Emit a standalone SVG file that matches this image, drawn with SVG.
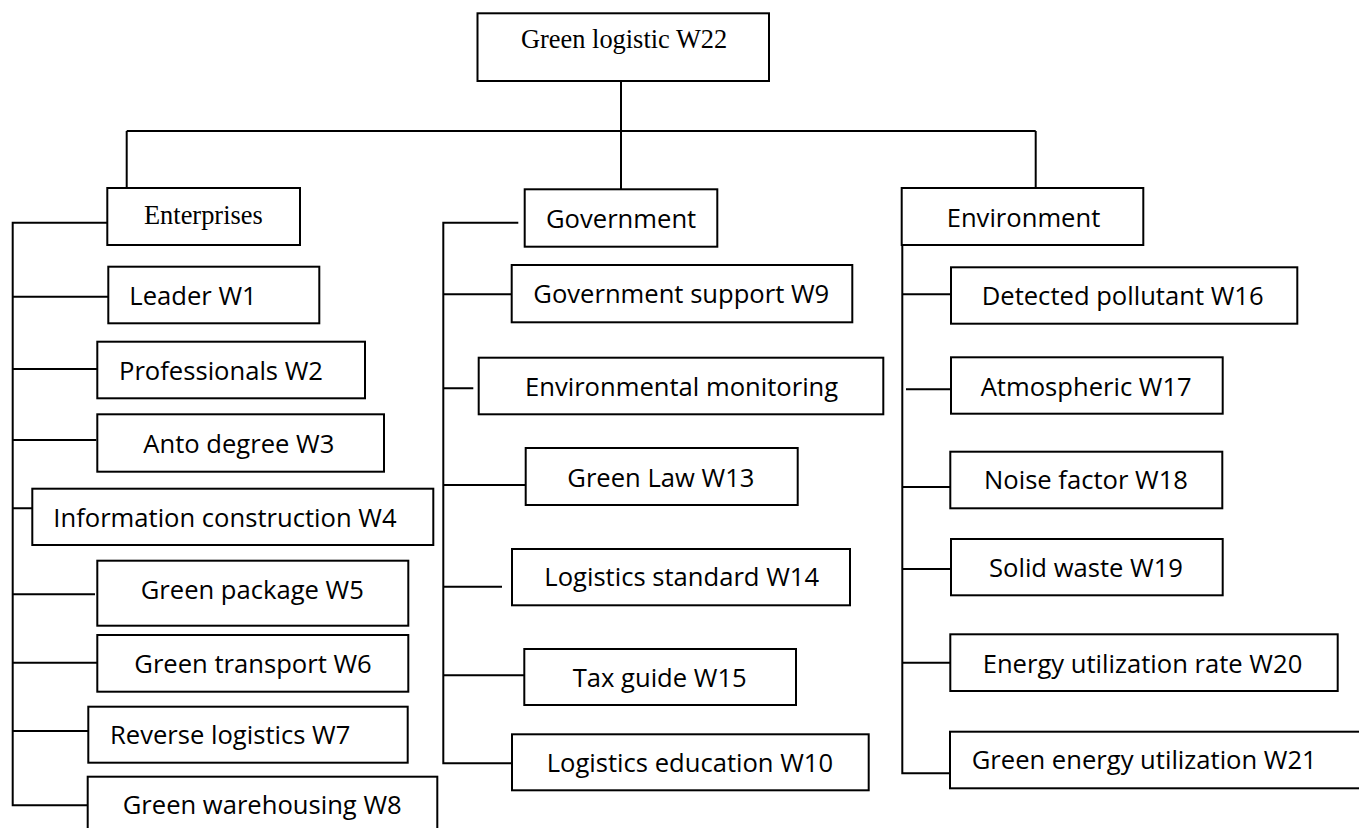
<svg xmlns="http://www.w3.org/2000/svg" width="1359" height="828" viewBox="0 0 1359 828">
<style>
.box{fill:#fff;stroke:#000;stroke-width:2}
.cn{fill:none;stroke:#000;stroke-width:2}
.t{font-family:"Open Sans","Liberation Sans",sans-serif;font-size:25.6px;fill:#000}
.ts{font-family:"Liberation Serif","Times New Roman",serif;font-size:26.4px;fill:#000}
</style>
<rect width="1359" height="828" fill="#fff"/>
<g id="connectors">
<path class="cn" d="M621 81V189"/>
<path class="cn" d="M126.7 131H1035.7"/>
<path class="cn" d="M126.7 131V188"/>
<path class="cn" d="M1035.7 131V188"/>
<path class="cn" d="M107.3 222.7H12.7V805.3H87.7"/>
<path class="cn" d="M12.7 296.7H108.3M12.7 369H97.3M12.7 440H96.3M12.7 508.3H32.3M12.7 594.3H95M12.7 662.7H97M12.7 731H91.5"/>
<path class="cn" d="M518.3 222.7H443.3V763.3H512"/>
<path class="cn" d="M443.3 294.3H511.7M443.3 388.3H473.3M443.3 485H525.7M443.3 586.7H502M443.3 675.3H524.3"/>
<path class="cn" d="M902.3 245V773.3H950"/>
<path class="cn" d="M902.3 294.3H951M906 389.3H951M902.3 487H950M902.3 569H951M902.3 662.7H950"/>
</g>
<g id="root">
<rect class="box" x="477.5" y="13.3" width="291.5" height="67.7"/>
<text class="ts" x="521" y="48.3">Green logistic W22</text>
</g>
<g id="enterprises">
<rect class="box" x="107.3" y="188" width="192.7" height="57"/>
<text class="ts" x="144" y="224.3">Enterprises</text>
</g>
<g id="government">
<rect class="box" x="524.7" y="189.3" width="192.6" height="57.4"/>
<text class="t" x="546" y="228.3">Government</text>
</g>
<g id="environment">
<rect class="box" x="901.7" y="188" width="241.6" height="57"/>
<text class="t" x="946.7" y="226.7">Environment</text>
</g>
<g id="w1">
<rect class="box" x="108.3" y="266.7" width="211" height="56.6"/>
<text class="t" x="129.3" y="305">Leader W1</text>
</g>
<g id="w2">
<rect class="box" x="97.3" y="341.7" width="267.7" height="56.6"/>
<text class="t" x="119" y="380">Professionals W2</text>
</g>
<g id="w3">
<rect class="box" x="97.3" y="414.3" width="286.7" height="57.4"/>
<text class="t" x="143.3" y="452.7">Anto degree W3</text>
</g>
<g id="w4">
<rect class="box" x="32.3" y="488.7" width="401" height="56.3"/>
<text class="t" x="53.3" y="527.3">Information construction W4</text>
</g>
<g id="w5">
<rect class="box" x="97.3" y="560.7" width="311" height="65"/>
<text class="t" x="140.7" y="599.3">Green package W5</text>
</g>
<g id="w6">
<rect class="box" x="97.3" y="635" width="311" height="56.7"/>
<text class="t" x="134.3" y="673.3">Green transport W6</text>
</g>
<g id="w7">
<rect class="box" x="88.3" y="706.7" width="319.4" height="56"/>
<text class="t" x="110" y="744.3">Reverse logistics W7</text>
</g>
<g id="w8">
<rect class="box" x="87.7" y="776.7" width="349.6" height="60"/>
<text class="t" x="122.7" y="814">Green warehousing W8</text>
</g>
<g id="w9">
<rect class="box" x="511.7" y="265" width="340.6" height="57.3"/>
<text class="t" x="533.3" y="303.3">Government support W9</text>
</g>
<g id="env-monitoring">
<rect class="box" x="478.7" y="357.7" width="404.6" height="56.6"/>
<text class="t" x="525" y="395.7">Environmental monitoring</text>
</g>
<g id="w13">
<rect class="box" x="525.7" y="448" width="272" height="57"/>
<text class="t" x="567.3" y="486.7">Green Law W13</text>
</g>
<g id="w14">
<rect class="box" x="512" y="549" width="338" height="56.3"/>
<text class="t" x="544.3" y="586">Logistics standard W14</text>
</g>
<g id="w15">
<rect class="box" x="524.3" y="649" width="271.7" height="56"/>
<text class="t" x="572.7" y="686.7">Tax guide W15</text>
</g>
<g id="w10">
<rect class="box" x="512" y="734.3" width="356.7" height="56"/>
<text class="t" x="546.7" y="772.3">Logistics education W10</text>
</g>
<g id="w16">
<rect class="box" x="951" y="267.3" width="346.3" height="56.4"/>
<text class="t" x="981.7" y="305">Detected pollutant W16</text>
</g>
<g id="w17">
<rect class="box" x="951" y="357.3" width="271.7" height="56.4"/>
<text class="t" x="980.7" y="395.7">Atmospheric W17</text>
</g>
<g id="w18">
<rect class="box" x="950.3" y="451.7" width="272" height="56.6"/>
<text class="t" x="984" y="489.3">Noise factor W18</text>
</g>
<g id="w19">
<rect class="box" x="951" y="539" width="271.7" height="56.3"/>
<text class="t" x="989" y="576.7">Solid waste W19</text>
</g>
<g id="w20">
<rect class="box" x="950.3" y="634.3" width="387.4" height="56.7"/>
<text class="t" x="982.7" y="673.3">Energy utilization rate W20</text>
</g>
<g id="w21">
<rect class="box" x="950" y="731.7" width="420" height="56.6"/>
<text class="t" x="971.7" y="769.3">Green energy utilization W21</text>
</g>
</svg>
